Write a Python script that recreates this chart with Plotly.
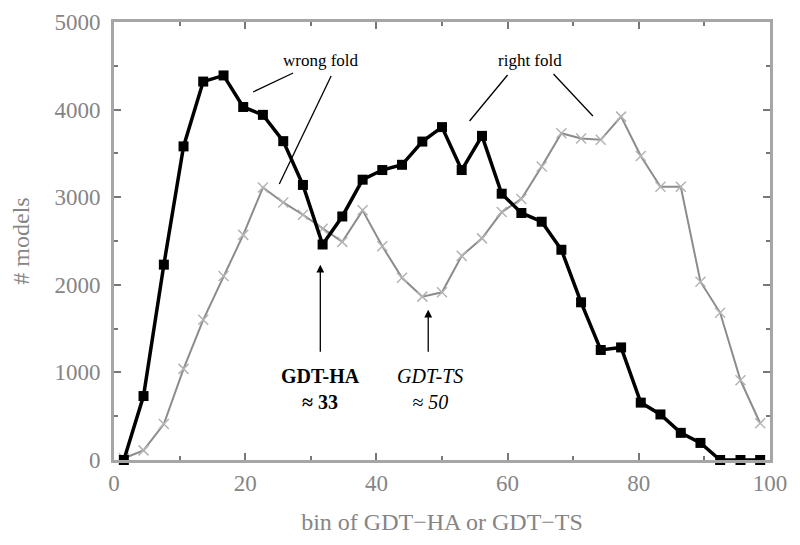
import plotly.graph_objects as go

# bin centres (33 bins over 0..100)
bins = [1.5, 4.5, 7.6, 10.6, 13.6, 16.7, 19.7, 22.7, 25.8, 28.8, 31.8,
        34.8, 37.9, 40.9, 43.9, 47.0, 50.0, 53.0, 56.1, 59.1, 62.1,
        65.2, 68.2, 71.2, 74.2, 77.3, 80.3, 83.3, 86.4, 89.4, 92.4, 95.5, 98.5]

gdt_ha = [0, 730, 2230, 3580, 4320, 4390, 4030, 3940, 3640, 3140, 2460,
          2780, 3200, 3310, 3370, 3635, 3800, 3310, 3700, 3040, 2820,
          2720, 2400, 1800, 1256, 1285, 655, 520, 310, 195, 0, 0, 0]

gdt_ts = [20, 110, 410, 1040, 1600, 2100, 2570, 3110, 2940, 2800, 2640,
          2490, 2850, 2440, 2080, 1865, 1915, 2330, 2530, 2830, 2980,
          3350, 3730, 3670, 3655, 3920, 3470, 3120, 3120, 2035, 1680, 910, 420]

x_ticks = [0, 20, 40, 60, 80, 100]
y_ticks = [0, 1000, 2000, 3000, 4000, 5000]

FONT = "Liberation Serif"
AXC = "#a6a6a6"
TXT = "#858585"

fig = go.Figure()
fig.add_trace(go.Scatter(
    x=bins, y=gdt_ts, mode="lines+markers",
    line=dict(color="#8c8c8c", width=2),
    marker=dict(symbol="x-thin", size=10, line=dict(color="#b4b4b4", width=1.5)),
    cliponaxis=False, showlegend=False))
fig.add_trace(go.Scatter(
    x=bins, y=gdt_ha, mode="lines+markers",
    line=dict(color="#000000", width=3.5),
    marker=dict(symbol="square", size=10, color="#000000"),
    cliponaxis=False, showlegend=False))

axis_common = dict(
    showgrid=False, zeroline=False, showline=True, linecolor=AXC, linewidth=3,
    mirror="ticks", ticks="inside", ticklen=7, tickwidth=2, tickcolor="#777777",
    tickfont=dict(family=FONT, size=23, color=TXT), automargin=False,
)

fig.update_xaxes(range=[0, 100], tickvals=x_ticks, ticktext=[str(v) for v in x_ticks],
                 minor=dict(dtick=10, ticks="inside", ticklen=4, tickwidth=2, tickcolor="#777777"),
                 title=dict(text="bin of GDT\u2212HA or GDT\u2212TS",
                            font=dict(family=FONT, size=24, color=TXT), standoff=19),
                 **axis_common)
fig.update_yaxes(range=[0, 5000], tickvals=y_ticks, ticktext=[str(v) for v in y_ticks],
                 minor=dict(dtick=500, ticks="inside", ticklen=4, tickwidth=2, tickcolor="#777777"),
                 ticklabelstandoff=6,
                 title=dict(text="# models", font=dict(family=FONT, size=24, color=TXT), standoff=22),
                 **axis_common)

line_style = dict(color="#000000", width=1.3)
leaders = [
    (27.3, 4418, 21.2, 4201),
    (33.1, 4384, 25.2, 3151),
    (60.0, 4395, 54.2, 3870),
    (67.0, 4406, 73.0, 3927),
]
for x0, y0, x1, y1 in leaders:
    fig.add_shape(type="line", x0=x0, y0=y0, x1=x1, y1=y1, xref="x", yref="y", line=line_style)

fig.add_annotation(x=31.5, y=4560, text="wrong fold", showarrow=False,
                   font=dict(family=FONT, size=17, color="#000000"))
fig.add_annotation(x=63.4, y=4560, text="right fold", showarrow=False,
                   font=dict(family=FONT, size=17, color="#000000"))

# arrows
fig.add_annotation(x=31.45, y=2230, ax=31.45, ay=1220, xref="x", yref="y", axref="x", ayref="y",
                   text="", showarrow=True, arrowhead=2, arrowsize=1.2, arrowwidth=1.3, arrowcolor="#000000")
fig.add_annotation(x=47.9, y=1715, ax=47.9, ay=1220, xref="x", yref="y", axref="x", ayref="y",
                   text="", showarrow=True, arrowhead=2, arrowsize=1.2, arrowwidth=1.3, arrowcolor="#000000")

fig.add_annotation(x=31.45, y=810, text="<b>GDT-HA<br>\u2248 33</b>", showarrow=False,
                   font=dict(family=FONT, size=20, color="#000000"))
fig.add_annotation(x=48.2, y=810, text="<i>GDT-TS<br>\u2248 50</i>", showarrow=False,
                   font=dict(family=FONT, size=20, color="#000000"))

fig.update_layout(
    width=800, height=545,
    margin=dict(l=106, r=38, t=14, b=93),
    plot_bgcolor="white", paper_bgcolor="white",
)

fig.write_html("out.html")
